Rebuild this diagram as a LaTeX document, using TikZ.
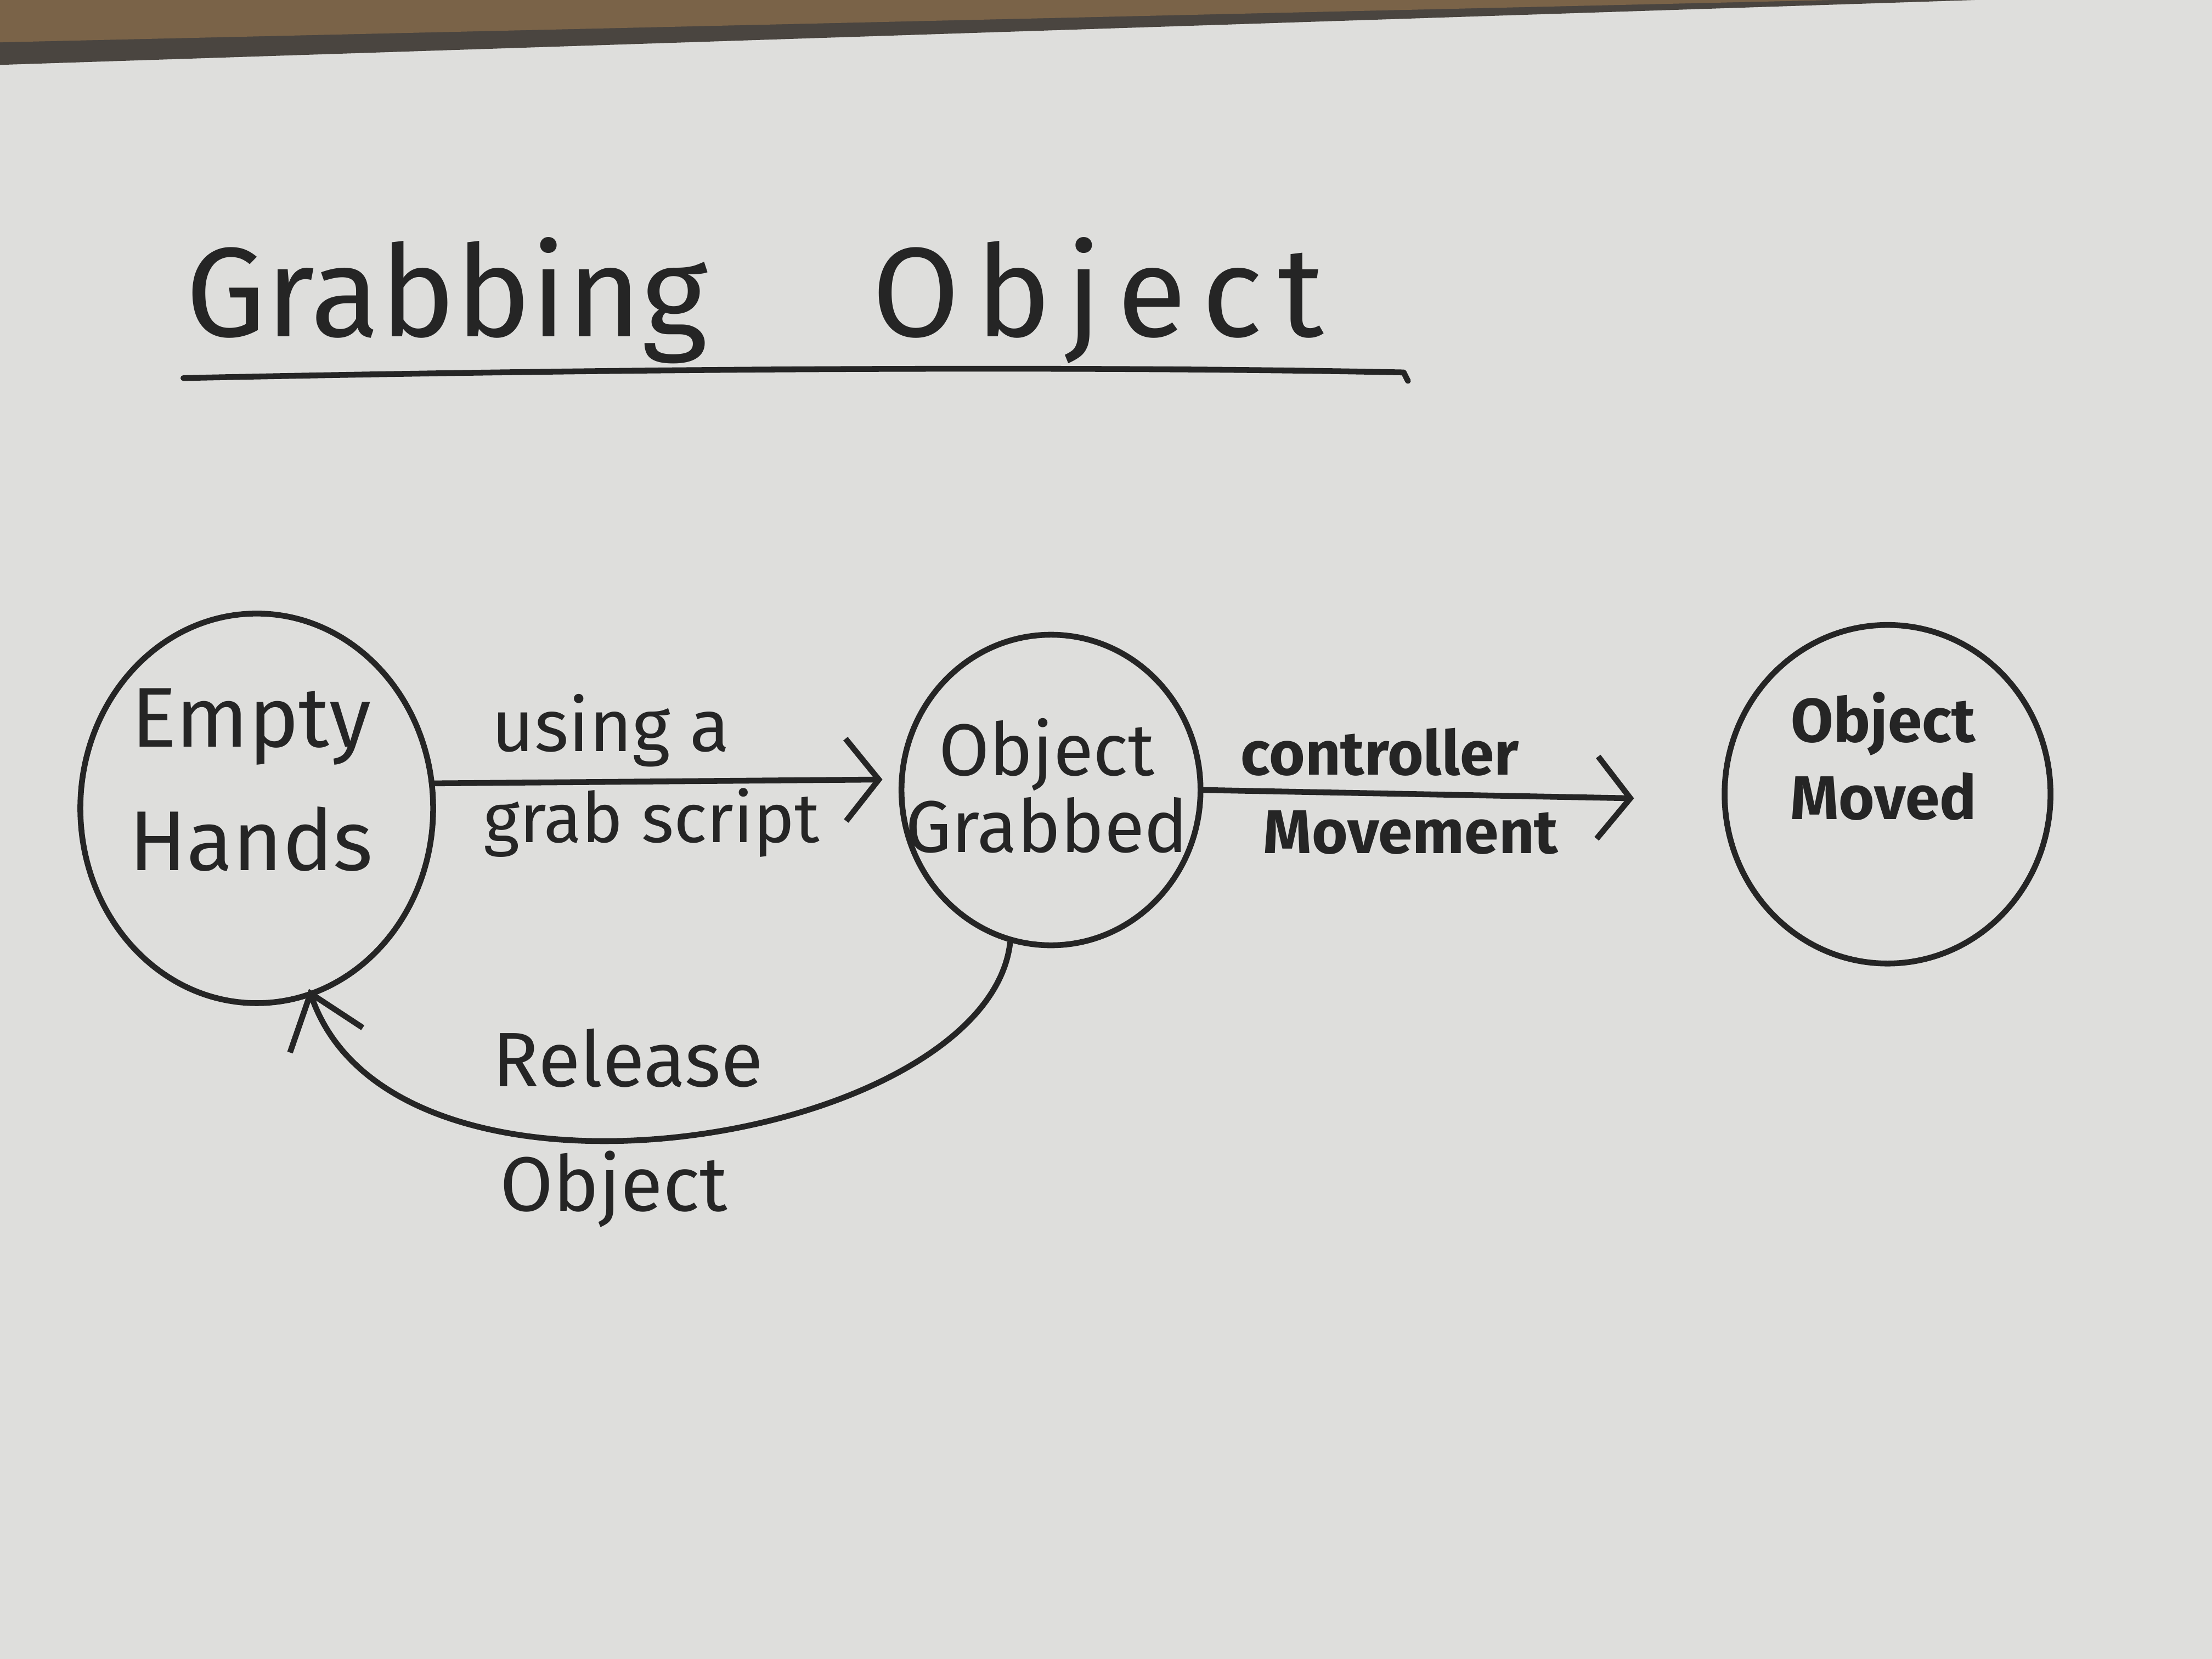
\documentclass[tikz,border=0pt]{standalone}
\usepackage{fontspec}
\setmainfont{Fira Sans}
\usetikzlibrary{shapes.geometric,arrows.meta}
\definecolor{board}{HTML}{DEDEDC}
\definecolor{ink}{HTML}{252525}
\definecolor{frame}{HTML}{7A6348}
\definecolor{frameedge}{HTML}{4A4540}
\begin{document}
\begin{tikzpicture}[x=0.025714cm,y=-0.025714cm,
  state/.style={ellipse, draw=ink, line width=3pt, inner sep=0pt},
  txt/.style={text=ink, align=center, inner sep=0pt},
  conn/.style={draw=ink, line width=3pt, line cap=round, line join=round},
  barb/.style={-{Straight Barb[length=0.6cm,width=1.5cm,line width=3pt]}},
  backbarb/.style={-{Straight Barb[length=0.9cm,width=1.4cm,line width=3pt]}}]
\useasboundingbox (0,0) rectangle (1568,1176);
\fill[board] (0,0) rectangle (1568,1176);
\fill[frameedge] (0,0) -- (1400,0) -- (0,46) -- cycle;
\fill[frame] (0,0) -- (1300,0) -- (0,30) -- cycle;

% title
\node[txt, font=\fontsize{66}{70}\selectfont] (title) at (535,213)
  {Grabbing\hspace{3cm}{\addfontfeatures{LetterSpace=12}Object}};
\draw[conn] (130,268) .. controls (500,260) and (800,260) .. (995,264) -- (998,270);

% states
\node[state, minimum width=6.43cm, minimum height=7.10cm] (e) at (182,573) {};
\node[txt, font=\fontsize{44}{64}\selectfont] (et) at (178,553) {Empty\\Hands};
\node[state, minimum width=5.45cm, minimum height=5.66cm] (g) at (745,560) {};
\node[txt, font=\fontsize{38}{40}\selectfont] (gt) at (742,557) {Object\\Grabbed};
\node[state, minimum width=5.94cm, minimum height=6.17cm] (m) at (1338,563) {};
\node[txt, font=\bfseries\fontsize{32}{40}\selectfont] (mt) at (1335,536) {Object\\Moved};

% transitions
\draw[conn, barb, shorten >=0.3cm] (e.8) -- (g.176);
\node[txt, font=\fontsize{38}{40}\selectfont] (l1a) at (433,518) {using a};
\node[txt, font=\fontsize{36}{40}\selectfont] (l1b) at (462,583) {grab script};

\draw[conn, barb, shorten >=1.6cm] (g.0) -- (m.182);
\node[txt, font=\bfseries\fontsize{32}{40}\selectfont] (l2a) at (978,533) {controller};
\node[txt, font=\bfseries\fontsize{32}{40}\selectfont] (l2b) at (1000,590) {Movement};

\coordinate (tip) at (219,701);
\draw[conn, backbarb] (g.255) .. controls (700,810) and (280,880) .. (tip);
\node[txt, font=\fontsize{40}{44}\selectfont] (l3a) at (445,750) {Release};
\node[txt, font=\fontsize{40}{44}\selectfont] (l3b) at (435,843) {Object};
\end{tikzpicture}
\end{document}
